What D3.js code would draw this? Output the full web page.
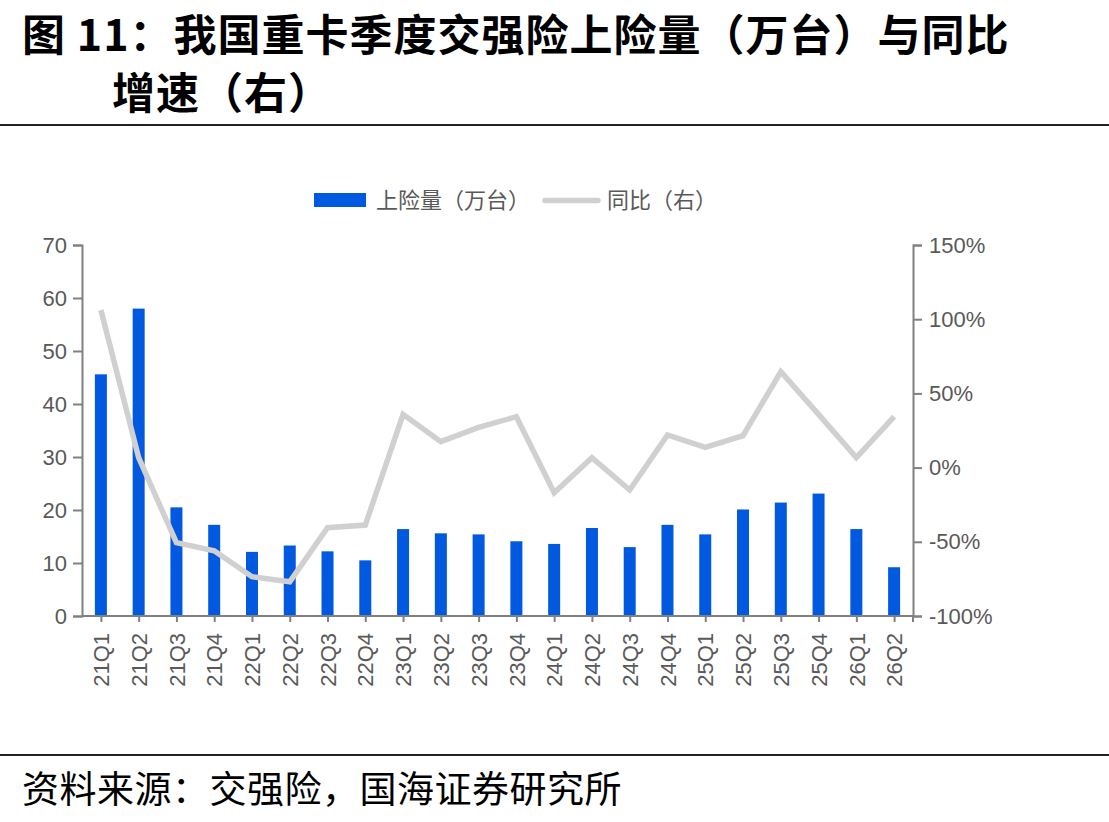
<!DOCTYPE html>
<html><head><meta charset="utf-8">
<script src="https://cdn.jsdelivr.net/npm/d3@7"></script>
<style>
html,body{margin:0;padding:0;background:#fff;}
svg{display:block;}
</style>
</head><body>
<script>
const categories = ["21Q1","21Q2","21Q3","21Q4","22Q1","22Q2","22Q3","22Q4","23Q1","23Q2","23Q3","23Q4","24Q1","24Q2","24Q3","24Q4","25Q1","25Q2","25Q3","25Q4","26Q1","26Q2"];
const volume = [45.6,58.0,20.5,17.2,12.1,13.3,12.2,10.5,16.4,15.6,15.4,14.1,13.6,16.6,13.0,17.2,15.4,20.1,21.4,23.1,16.4,9.2];
const yoy = [106.2,6.7,-50.6,-56.0,-73.5,-76.9,-40.5,-38.7,35.9,17.5,27.1,34.3,-16.9,6.7,-15.1,22.0,13.7,21.5,64.6,35.9,6.7,34.3];
const leftTicks = [0,10,20,30,40,50,60,70];
const rightTicks = [-100,-50,0,50,100,150];
const titleLine1 = "图 11：我国重卡季度交强险上险量（万台）与同比";
const titleLine2 = "增速（右）";
const legendNames = ["上险量（万台）","同比（右）"];
const sourceText = "资料来源：交强险，国海证券研究所";

const W = 1109, H = 822;
const svg = d3.select("body").append("svg").attr("width", W).attr("height", H);
const font = "'Liberation Sans', Arial, 'Noto Sans CJK SC', sans-serif";
const cjk = "'Noto Sans CJK SC', sans-serif";
const axisColor = "#808080", textColor = "#595959";
const blue = "#0059df", gray = "#d0d0d0";

// title
svg.append("text").attr("x", 22).attr("y", 51).attr("font-family", cjk).attr("font-weight", 700)
  .attr("font-size", 43).attr("letter-spacing", 1).attr("fill", "#000").text(titleLine1);
svg.append("text").attr("x", 112).attr("y", 109).attr("font-family", cjk).attr("font-weight", 700)
  .attr("font-size", 43).attr("letter-spacing", 1).attr("fill", "#000").text(titleLine2);
svg.append("rect").attr("x", 0).attr("y", 124).attr("width", W).attr("height", 2).attr("fill", "#222");
svg.append("rect").attr("x", 0).attr("y", 754).attr("width", W).attr("height", 2).attr("fill", "#222");
svg.append("text").attr("x", 22).attr("y", 803).attr("font-family", cjk).attr("font-weight", 400)
  .attr("font-size", 37).attr("letter-spacing", 0.5).attr("fill", "#000").text(sourceText);

// scales
const x0 = 82, x1 = 913, yTop = 245, yBot = 616;
const xc = d3.scalePoint().domain(categories).range([x0, x1]).padding(0.5);
const yL = d3.scaleLinear().domain([0, 70]).range([yBot, yTop]);
const yR = d3.scaleLinear().domain([-100, 150]).range([yBot, yTop]);

// bars
svg.append("g").selectAll("rect").data(categories).join("rect")
  .attr("x", (d) => xc(d) - 6).attr("width", 12)
  .attr("y", (d, i) => yL(volume[i])).attr("height", (d, i) => yBot - yL(volume[i]))
  .attr("fill", blue);

// line
const line = d3.line().x((d, i) => xc(categories[i])).y(d => yR(d));
svg.append("path").datum(yoy).attr("d", line).attr("fill", "none")
  .attr("stroke", gray).attr("stroke-width", 5.5).attr("stroke-linejoin", "miter").attr("stroke-linecap", "butt");

// axes
function styleAxis(g) {
  g.selectAll("path.domain").attr("stroke", axisColor).attr("stroke-width", 2);
  g.selectAll(".tick line").attr("stroke", axisColor).attr("stroke-width", 2);
  g.selectAll(".tick text").attr("fill", textColor).attr("font-family", font).attr("font-size", 22);
}
const gL = svg.append("g").attr("transform", `translate(${x0},0)`)
  .call(d3.axisLeft(yL).tickValues(leftTicks).tickSize(9).tickPadding(6).tickFormat(d3.format("d")));
styleAxis(gL);
const gR = svg.append("g").attr("transform", `translate(${x1},0)`)
  .call(d3.axisRight(yR).tickValues(rightTicks).tickSize(9).tickPadding(7).tickFormat(d => d + "%"));
styleAxis(gR);
const gX = svg.append("g").attr("transform", `translate(0,${yBot})`)
  .call(d3.axisBottom(xc).tickSize(6).tickSizeOuter(0).tickPadding(11));
styleAxis(gX);
gX.selectAll(".tick text").attr("transform", "rotate(-90)").attr("text-anchor", "end")
  .attr("dy", "0.35em").attr("x", -17).attr("y", 0);
gX.select("path.domain").attr("d", `M${x0},0H${x1}V6`);

// legend
const lg = svg.append("g");
lg.append("rect").attr("x", 314).attr("y", 193).attr("width", 52).attr("height", 14).attr("fill", blue);
lg.append("text").attr("x", 376).attr("y", 208).attr("font-family", cjk).attr("font-size", 22)
  .attr("fill", textColor).text(legendNames[0]);
lg.append("line").attr("x1", 545).attr("x2", 598).attr("y1", 200.5).attr("y2", 200.5)
  .attr("stroke", gray).attr("stroke-width", 5.5).attr("stroke-linecap", "round");
lg.append("text").attr("x", 607).attr("y", 208).attr("font-family", cjk).attr("font-size", 22)
  .attr("fill", textColor).text(legendNames[1]);
</script>
</body></html>
